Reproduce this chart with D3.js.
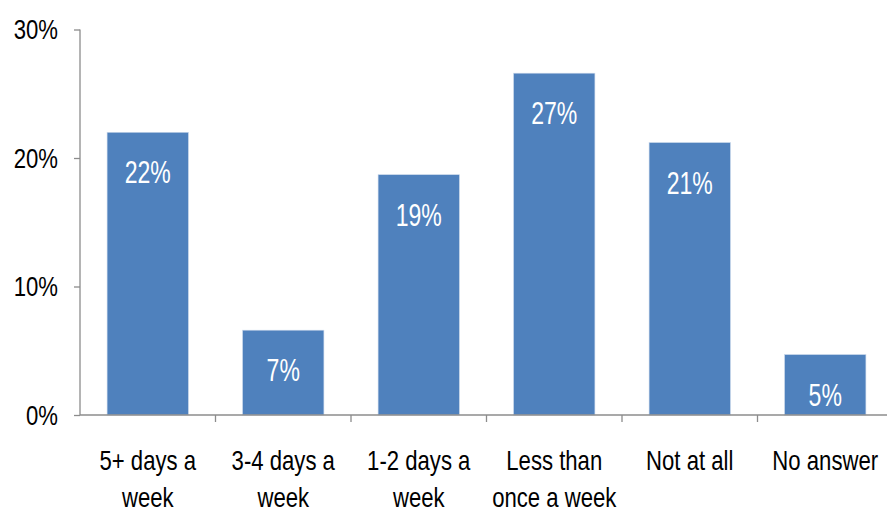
<!DOCTYPE html>
<html>
<head>
<meta charset="utf-8">
<script src="https://cdn.jsdelivr.net/npm/d3@7"></script>
<style>
  html, body { margin: 0; padding: 0; background: #fff; }
  svg { display: block; }
  text { font-family: "Liberation Sans", Arial, sans-serif; }
</style>
</head>
<body>
<svg id="chart" width="887" height="515"></svg>
<script>
// How often respondents do the activity (share of respondents)
const categories = [
  "5+ days a\nweek",
  "3-4 days a\nweek",
  "1-2 days a\nweek",
  "Less than\nonce a week",
  "Not at all",
  "No answer"
];
const values = [0.22, 0.066, 0.187, 0.266, 0.212, 0.047];
const yTicks = [0, 0.1, 0.2, 0.3];

const svg = d3.select("#chart");
const plot = { left: 80, right: 893, top: 29.5, bottom: 415 };

// Horizontal squeeze that turns the regular sans into a narrow face
const NARROW = 0.82;

const x = d3.scaleBand()
  .domain(categories)
  .range([plot.left, plot.right])
  .paddingInner(0.4)
  .paddingOuter(0.2);

const y = d3.scaleLinear()
  .domain([0, 0.3])
  .range([plot.bottom, plot.top]);

const axisColor = "#8c8c8c";
const pct = d3.format(".0%");

// Bars
svg.append("g").selectAll("rect")
  .data(values)
  .join("rect")
  .attr("x", (d, i) => x(categories[i]))
  .attr("y", d => y(d))
  .attr("width", x.bandwidth())
  .attr("height", d => y(0) - y(d))
  .attr("fill", "#4F81BD")
  .attr("stroke", "#c9d7ea")
  .attr("stroke-width", 0.6);

// Value labels inside the bars
svg.append("g").selectAll("text")
  .data(values)
  .join("text")
  .attr("transform", (d, i) =>
    `translate(${x(categories[i]) + x.bandwidth() / 2},${y(d) + 51}) scale(0.72,1)`)
  .attr("text-anchor", "middle")
  .attr("fill", "#ffffff")
  .attr("font-size", 32)
  .text(d => pct(d));

// Y axis (line and ticks from d3, labels placed with the same scale)
const yAxis = d3.axisLeft(y)
  .tickValues(yTicks)
  .tickFormat("")
  .tickSize(6);

const gy = svg.append("g")
  .attr("transform", `translate(${plot.left},0)`)
  .call(yAxis);
gy.select(".domain").attr("stroke", axisColor).attr("stroke-width", 1.3)
  .attr("d", `M0,${plot.top}V${plot.bottom}`);
gy.selectAll(".tick line").attr("stroke", axisColor).attr("stroke-width", 1.3);

svg.append("g").selectAll("text")
  .data(yTicks)
  .join("text")
  .attr("transform", d => `translate(58,${y(d) + 9.5}) scale(${NARROW},1)`)
  .attr("text-anchor", "end")
  .attr("font-size", 27)
  .attr("fill", "#000")
  .text(d => pct(d));

// X axis baseline with tick marks between categories
const gx = svg.append("g");
gx.append("line")
  .attr("x1", plot.left).attr("x2", 887)
  .attr("y1", plot.bottom).attr("y2", plot.bottom)
  .attr("stroke", axisColor).attr("stroke-width", 1.3);
const step = x.step();
const boundaries = categories.slice(1).map(c => x(c) - x.paddingInner() * step / 2);
gx.selectAll(".sep")
  .data(boundaries)
  .join("line")
  .attr("class", "sep")
  .attr("x1", d => d).attr("x2", d => d)
  .attr("y1", plot.bottom).attr("y2", plot.bottom + 7)
  .attr("stroke", axisColor).attr("stroke-width", 1.3);

// Category labels (multi-line)
const labels = gx.selectAll(".cat")
  .data(categories)
  .join("text")
  .attr("class", "cat")
  .attr("text-anchor", "middle")
  .attr("font-size", 27)
  .attr("fill", "#000")
  .attr("transform", d => `translate(${x(d) + x.bandwidth() / 2},0) scale(${NARROW},1)`);
labels.selectAll("tspan")
  .data(d => d.split("\n"))
  .join("tspan")
  .attr("x", 0)
  .attr("y", (d, i) => 470 + i * 37)
  .text(d => d);
</script>
</body>
</html>
